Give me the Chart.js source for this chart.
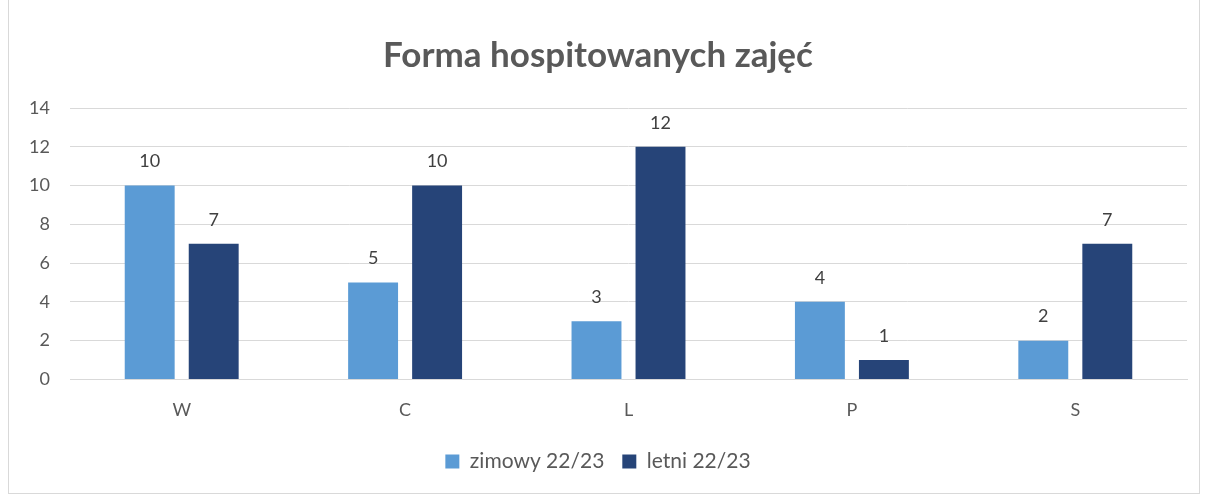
<!DOCTYPE html>
<html>
<head>
<meta charset="utf-8">
<script src="https://cdn.jsdelivr.net/npm/chart.js@4/dist/chart.umd.min.js"></script>
<style>
  body { margin: 0; background: #fff; }
  #box { position: absolute; left: 8px; top: -1px; width: 1192px; height: 495px; border: 1px solid #d9d9d9; box-sizing: border-box; }
  #wrap { position: absolute; left: 0; top: 0; width: 1190px; height: 493px; }
</style>
</head>
<body>
<div id="box"><div id="wrap"><canvas id="chart"></canvas></div></div>
<script>
var categories = ['W', 'C', 'L', 'P', 'S'];
var zimowy = [10, 5, 3, 4, 2];
var letni = [7, 10, 12, 1, 7];
var seriesNames = ['zimowy 22/23', 'letni 22/23'];

var FONT = 'Lato, "Open Sans", sans-serif';

// values above bars
var barLabels = {
    id: 'barLabels',
    afterDatasetsDraw: function (chart) {
        var ctx = chart.ctx;
        ctx.save();
        ctx.font = '18px ' + FONT;
        ctx.fillStyle = '#404040';
        ctx.textAlign = 'center';
        ctx.textBaseline = 'bottom';
        chart.data.datasets.forEach(function (ds, i) {
            chart.getDatasetMeta(i).data.forEach(function (bar, j) {
                ctx.fillText(ds.data[j], bar.x, bar.y - 15);
            });
        });
        ctx.restore();
    }
};

var ctx = document.getElementById('chart');
var chart = new Chart(ctx, {
    type: 'bar',
    data: {
        labels: categories,
        datasets: [
            { label: seriesNames[0], data: zimowy, backgroundColor: '#5B9BD5' },
            { label: seriesNames[1], data: letni, backgroundColor: '#264478' }
        ]
    },
    options: {
        responsive: true,
        maintainAspectRatio: false,
        animation: false,
        categoryPercentage: 0.573,
        barPercentage: 0.78,
        layout: { padding: { left: 0, right: 12, top: 35, bottom: 11 } },
        plugins: {
            title: {
                display: true,
                text: 'Forma hospitowanych zajęć',
                color: '#595959',
                font: { family: FONT, size: 35, weight: 'bold' },
                padding: { top: 0, bottom: 31 }
            },
            legend: {
                position: 'bottom',
                labels: {
                    color: '#595959',
                    font: { family: FONT, size: 21 },
                    boxWidth: 14,
                    boxHeight: 14,
                    padding: 18
                }
            },
            tooltip: { enabled: false }
        },
        scales: {
            x: {
                grid: { display: false },
                border: { color: '#d9d9d9' },
                ticks: { color: '#595959', font: { family: FONT, size: 18 }, padding: 12 }
            },
            y: {
                min: 0,
                max: 14,
                ticks: { stepSize: 2, color: '#595959', font: { family: FONT, size: 18 }, padding: 20 },
                grid: { color: '#d9d9d9', drawTicks: false },
                border: { display: false },
                afterFit: function (scale) { scale.width = 61; }
            }
        }
    },
    plugins: [barLabels]
});
</script>
</body>
</html>
